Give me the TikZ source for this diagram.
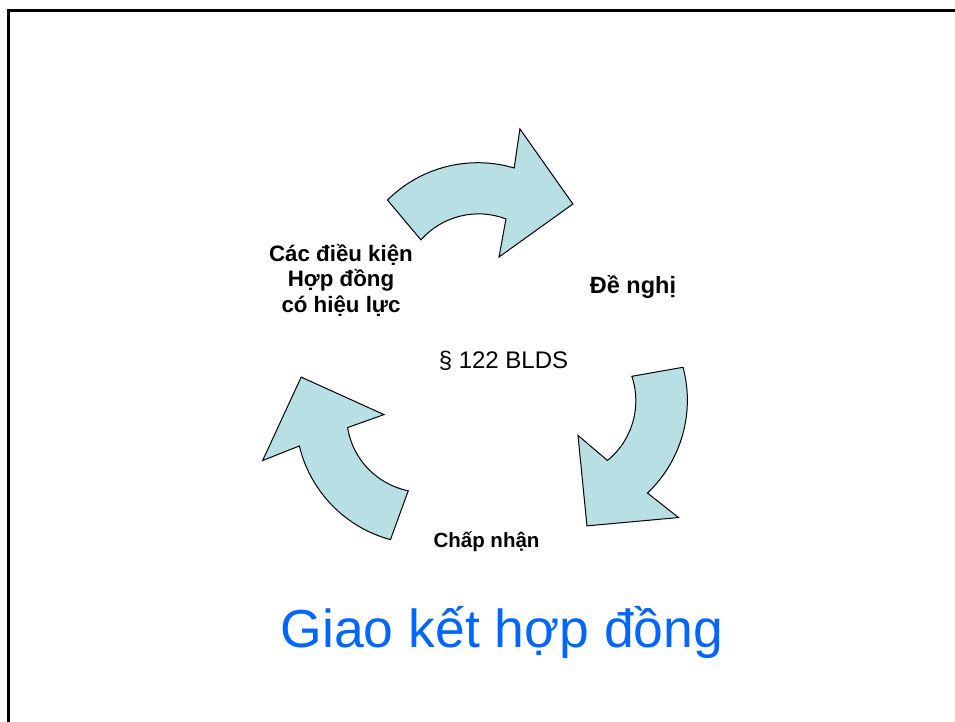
\documentclass[tikz,border=0pt]{standalone}
\usepackage{fontspec}
\setmainfont{Liberation Sans}
\definecolor{arrowfill}{RGB}{184,223,227}
\definecolor{titleblue}{RGB}{0,102,255}
\begin{document}
\begin{tikzpicture}[x=1pt,y=1pt,
  cyclearrow/.style={draw=black, line width=1pt, fill=arrowfill, line join=miter},
  boldlbl/.style={inner sep=0pt, anchor=base, font=\bfseries\fontsize{#1}{#1}\selectfont},
  plainlbl/.style={inner sep=0pt, anchor=base, font=\fontsize{#1}{#1}\selectfont}]
\useasboundingbox (0,0) rectangle (955,722);
\fill[white] (0,0) rectangle (955,722);
% frame
\coordinate (fb) at (8.5,0);
\coordinate (fc) at (8.5,711.5);
\coordinate (fr) at (955,711.5);
\draw[line width=3pt] (fb) -- (fc) -- (fr);
% three cycle arrows
\foreach \r in {0,-120,120} {
  \begin{scope}[shift={(487,353)}, rotate=\r]
    \draw[cyclearrow] (-99.5,168.9) .. controls (-66.5,202.0) and (-17.6,214.3) .. (27.2,201.0)
      -- (32.9,240.1) -- (85.9,165.0) -- (12.0,112.0) -- (18.95,150.0)
      .. controls (-10.75,161.6) and (-45.0,153.0) .. (-66.1,129.1) -- cycle;
  \end{scope}
}
% labels
\node[boldlbl=22.3] (cond1) at (341,460) {Các điều kiện};
\node[boldlbl=22.3] (cond2) at (341,435) {Hợp đồng};
\node[boldlbl=22.3] (cond3) at (341,409) {có hiệu lực};
\node[boldlbl=23.5] (offer) at (633,428) {Đề nghị};
\node[plainlbl=24] (law) at (503.5,353) {§ 122 BLDS};
\node[boldlbl=20.5] (accept) at (486.5,174) {Chấp nhận};
\node[plainlbl=53.5, text=titleblue] (title) at (502,74) {Giao kết hợp đồng};
\end{tikzpicture}
\end{document}
